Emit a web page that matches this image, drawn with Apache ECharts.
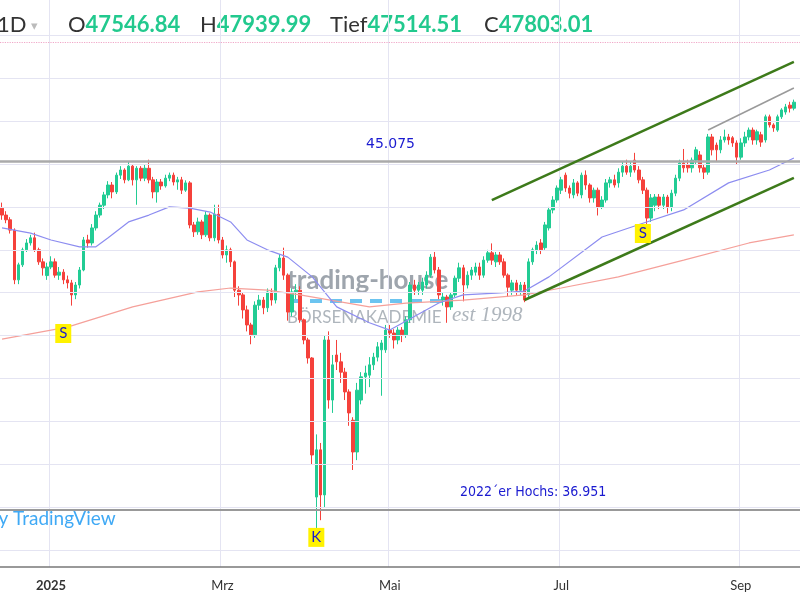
<!DOCTYPE html>
<html><head><meta charset="utf-8">
<script src="https://cdn.jsdelivr.net/npm/echarts@6/dist/echarts.min.js"></script>
<style>html,body{margin:0;padding:0;background:#fff}#c{width:800px;height:600px}</style>
</head><body><div id="c"></div>
<script>
// ---- data ----
const startDate = '2024-12-10', endDate = '2025-09-19';
const holidays = ['2024-12-24','2024-12-25','2024-12-26','2024-12-31','2025-01-01','2025-04-18','2025-04-21','2025-05-01'];
const monthLabels = {0:'2025',2:'Mrz',4:'Mai',6:'Jul',8:'Sep'};
// [open, close, low, high]
const candles = [
[43970,43810,43700,44100],[43810,43700,43620,43900],[43700,43460,43380,43760],[43460,42300,42200,43500],[42300,42650,42200,42700],
[42650,43000,42600,43050],[43000,43160,42950,43250],[43160,43280,43100,43350],[43280,43000,42950,43400],[43000,42720,42650,43050],
[42720,42580,42400,42800],[42400,42600,42300,42700],[42600,42720,42550,42850],[42720,42410,42350,42800],[42410,42480,42300,42600],
[42480,42300,42200,42550],[42300,42230,42100,42400],[42230,41950,41700,42300],[41950,42180,41850,42250],[42180,42530,42100,42600],
[42530,43230,42500,43300],[43230,43160,43050,43350],[43160,43510,43100,43600],[43510,43810,43450,43900],[43810,44040,43750,44100],
[44040,44280,43950,44350],[44280,44510,44200,44600],[44510,44350,44200,44580],[44350,44740,44300,44800],[44740,44860,44650,44950],
[44860,44630,44550,44900],[44630,44950,44600,45050],[44950,44630,44500,45000],[44630,44900,44050,44950],[44900,44670,44600,44950],
[44670,44900,44600,44980],[44900,44630,44550,45100],[44630,44350,44200,44700],[44350,44580,44100,44650],[44580,44490,44400,44650],
[44490,44670,44450,44750],[44670,44740,44600,44800],[44740,44580,44500,44800],[44580,44630,44400,44700],[44630,44390,44300,44700],
[44390,44560,44350,44620],[44560,43580,43500,44600],[43580,43420,43300,43650],[43420,43650,43350,43750],[43650,43350,43250,43700],
[43350,43810,43300,43900],[43810,43280,43200,43850],[43280,43830,43200,44050],[43830,43230,43150,44050],[43230,42880,42800,43300],
[42880,43000,42700,43100],[43000,42720,42600,43050],[42720,42060,41900,42750],[42060,41950,41700,42150],[41950,41600,41400,42000],
[41600,41250,41100,41700],[41250,41020,40800,41300],[41020,41710,40950,41800],[41710,41830,41600,41950],[41830,41650,41500,41900],
[41650,42020,41550,42100],[42020,41830,41700,42100],[41830,42580,41750,42650],[42580,42810,42500,42900],[42810,42410,42300,43050],
[42410,41550,41350,42450],[41550,42020,41450,42100],[42020,42060,41850,42200],[42060,41370,41300,42150],[41370,40900,40800,41400],
[40900,40480,40350,40950],[40480,38220,38000,40500],[37240,38340,36470,38700],[38340,37290,36700,38500],[37290,40900,37000,41000],
[40900,39500,39300,41100],[39500,40320,39200,40550],[40550,40390,40200,40900],[40390,40150,39900,40600],[40150,39690,39500,40250],
[39690,39200,38900,39750],[39030,38290,37870,39100],[38290,39730,38100,39900],[39500,40040,39400,40150],[40040,40130,39650,40300],
[40080,40320,39800,40500],[40320,40500,40200,40600],[40500,40740,40400,40850],[40670,40830,39600,40900],[40670,41130,40600,41250],
[41130,41060,40950,41250],[41060,40900,40700,41150],[40900,41130,40800,41200],[41130,41020,40850,41200],[41020,41370,40950,41450],
[41370,42180,41300,42250],[42180,42060,41950,42300],[42060,42180,41950,42250],[42060,42250,41950,42350],[42180,42410,42100,42500],
[42410,42830,42350,42900],[42830,42530,42450,42950],[42530,41950,41850,42600],[41830,41900,41700,42000],[41900,41670,41300,41950],
[41670,41950,41600,42000],[41950,42340,41900,42400],[42340,42580,42250,42700],[42580,42180,41800,42650],[42180,42410,42100,42500],
[42410,42530,42300,42600],[42480,42600,42400,42700],[42600,42410,42300,42700],[42410,42760,42350,42850],[42760,42930,42700,43000],
[42930,42760,42650,43150],[42720,42880,42600,42950],[42880,42720,42650,42950],[42720,42410,42350,42800],[42410,42130,41900,42450],
[42060,42230,41950,42300],[42230,42060,41950,42300],[42060,42180,41950,42250],[42180,41830,41780,42250],[41950,42720,41850,42800],
[42720,43000,42650,43050],[43000,43110,42900,43200],[43160,43000,42900,43250],[43050,43580,43000,43650],[43510,43930,43450,44000],
[43930,44160,43850,44250],[44160,44440,44100,44500],[44390,44630,44300,44700],[44740,44440,44350,44800],[44440,44320,44200,44500],
[44280,44560,44200,44650],[44560,44320,44250,44600],[44280,44740,44200,44800],[44740,44510,44400,44850],[44510,44210,44100,44550],
[44210,44390,44100,44450],[44390,44000,43800,44450],[44000,44160,43950,44250],[44160,44560,44100,44650],[44560,44630,44450,44700],
[44630,44510,44450,44750],[44560,44810,44450,44900],[44810,44950,44700,45050],[44950,44810,44750,45100],[44810,44950,44700,45050],
[45090,44860,44800,45260],[44860,44630,44550,44950],[44630,44390,44300,44700],[44390,43740,43420,44450],[43740,44210,43650,44300],
[44040,44230,43900,44300],[44230,44040,43950,44300],[44040,44230,43950,44300],[44230,44000,43850,44280],[44000,44320,43900,44400],
[44320,44670,44250,44750],[44670,45020,44600,45100],[45020,44910,44800,45350],[44980,44910,44800,45100],[44910,45090,44800,45150],
[45090,45330,45000,45400],[45210,44910,44800,45300],[44910,44810,44650,45000],[44810,45630,44750,45700],[45630,45330,45200,45700],
[45440,45330,45050,45500],[45330,45560,45250,45650],[45560,45630,45500,45800],[45630,45560,45450,45700],[45610,45490,45400,45650],
[45490,45160,45000,45550],[45160,45490,45100,45600],[45490,45630,45400,45750],[45630,45790,45550,45850],[45790,45560,45450,45850],
[45560,45750,45450,45800],[45680,45510,45400,45750],[45560,46100,45500,46150],[46100,45910,45850,46150],[45910,45840,45750,45950],
[45790,46100,45750,46150],[46100,46260,46050,46300],[46210,46330,46150,46400],[46370,46300,46200,46450],[46300,46440,46250,46500]
];
// moving averages: [bar index, value]
const ma50 = [[0,43510],[7,43390],[12,43230],[19,43070],[23,43070],[26,43280],[31,43650],[36,43810],[41,44000],[46,43970],[51,43880],[56,43650],[60,43230],[65,43000],[70,42830],[76,42370],[82,41670],[90,41300],[95,41130],[107,41760],[113,41950],[121,41990],[128,42040],[134,42370],[147,43300],[157,43620],[167,43930],[178,44560],[188,44860],[194,45140]];
const ma200 = [[0,40920],[16,41200],[32,41670],[48,42020],[56,42110],[65,42060],[73,41950],[90,41670],[99,41760],[113,41830],[128,41950],[137,42110],[151,42370],[167,42760],[183,43160],[194,43350]];
const gridLevels = [36000,37000,38000,39000,40000,41000,42000,43000,44000,45000,46000,47000,48000];
const resistance = 45075, oldHigh = 36951, lastPrice = 47840;
const channelUpper = [[120,44160],[194,47377]];
const channelLower = [[128,41831],[194,44674]];
const innerLine = [[173,45792],[194,46771]];
const markers = [{t:'S',i:15,v:41050},{t:'S',i:157,v:43380},{t:'K',i:77,v:36300}];
const header = [['O','47546.84',68],['H','47939.99',200],['Tief','47514.51',330],['C','47803.01',484]];

// ---- build ----
const dates = [];
{ let d = new Date(startDate+'T12:00:00Z'); const end = new Date(endDate+'T12:00:00Z');
  while (d <= end) { const s = d.toISOString().slice(0,10); const wd = d.getUTCDay();
    if (wd!==0 && wd!==6 && holidays.indexOf(s)<0) dates.push(s); d = new Date(d.getTime()+86400000); } }
const labelAt = {};
dates.forEach((s,i)=>{ const m = +s.slice(5,7)-1; if (i>0 && dates[i-1].slice(5,7)!==s.slice(5,7) && monthLabels[m]!==undefined && s.slice(0,4)==='2025') labelAt[i]=monthLabels[m]; });
const isLab = i => labelAt[i]!==undefined;

const chart = echarts.init(document.getElementById('c'), null, {renderer:'canvas'});
const hl = (v,color,w,type)=>({yAxis:v,lineStyle:{color,width:w,type}});
const headerGraphics = header.map(h=>({type:'text',left:h[2],top:14,style:{
  rich:{l:{fontSize:22,fill:'#333',fontFamily:'Lato'},v:{fontSize:22,fill:'#22c98e',fontFamily:'Lato',fontWeight:'bold'}},
  text:'{l|'+h[0]+'}{v|'+h[1]+'}'}}));
chart.setOption({
  animation:false,
  grid:{left:0,right:0,top:0,bottom:33},
  xAxis:{type:'category',data:dates,boundaryGap:true,
    axisLine:{lineStyle:{color:'#777',width:1.5}},
    axisTick:{interval:(i)=>isLab(i),length:5,lineStyle:{color:'#777'}},
    axisLabel:{interval:(i)=>isLab(i),formatter:(v,i)=>labelAt[i]==='2025'?'{b|2025}':(labelAt[i]||''),color:'#333',fontSize:13,margin:12,
      fontFamily:'Lato',rich:{b:{fontWeight:'bold',fontSize:13,color:'#333',fontFamily:'Lato'}}},
    splitLine:{show:true,interval:(i)=>isLab(i),lineStyle:{color:'#e4e4f2'}}},
  yAxis:{type:'value',min:35610,max:48821,show:false,splitLine:{show:false}},
  series:[
    {type:'line',data:[],silent:true,markLine:{symbol:'none',silent:true,label:{show:false},
      data:gridLevels.map(v=>hl(v,'#e4e4f2',1,'solid')).concat([
        hl(resistance,'#aaa',2.5,'solid'),hl(oldHigh,'#999',2,'solid'),hl(lastPrice,'#f0a8c8',1.2,'dotted')])}},
    {type:'line',data:ma200,showSymbol:false,connectNulls:true,lineStyle:{color:'#f5a09a',width:1.2},silent:true},
    {type:'line',data:ma50,showSymbol:false,connectNulls:true,lineStyle:{color:'#8d8df0',width:1.2},silent:true},
    {type:'candlestick',data:candles,barWidth:3,
      itemStyle:{color:'#22cc94',color0:'#f5413b',borderColor:'#22cc94',borderColor0:'#f5413b',borderWidth:1},
      markLine:{symbol:'none',silent:true,label:{show:false},data:[
        [{coord:channelUpper[0],lineStyle:{color:'#3d7a1a',width:2.5,type:'solid'}},{coord:channelUpper[1]}],
        [{coord:channelLower[0],lineStyle:{color:'#3d7a1a',width:2.5,type:'solid'}},{coord:channelLower[1]}],
        [{coord:innerLine[0],lineStyle:{color:'#9a9a9a',width:1.5,type:'solid'}},{coord:innerLine[1]}]]},
      markPoint:{symbol:'rect',symbolSize:[16,19],itemStyle:{color:'#fff200'},
        label:{color:'#1a1ad0',fontSize:15,fontFamily:'Lato'},
        data:markers.map(m=>({coord:[m.i,m.v],value:m.t,label:{formatter:m.t}}))}}
  ],
  graphic:[
    {type:'text',left:-3,top:14,style:{text:'1D',fontSize:22,fill:'#333',fontFamily:'Lato'}},
    {type:'text',left:31,top:20,style:{text:'▾',fontSize:13,fill:'#bbb'}}
  ].concat(headerGraphics).concat([
    {type:'text',left:366,top:137,style:{text:'45.075',fontSize:14,fill:'#1a1ad0',fontFamily:'DejaVu Sans'}},
    {type:'text',left:460,top:485,style:{text:'2022´er Hochs: 36.951',fontSize:14,fill:'#1a1ad0',fontFamily:'DejaVu Sans Condensed'}},
    {type:'text',left:-12,top:509,style:{text:'by TradingView',fontSize:19,fill:'#3fa9f5',fontFamily:'Lato'}},
    {type:'text',left:287,top:268,style:{text:'trading-house',fontSize:26,fill:'rgba(125,135,145,0.75)',fontFamily:'Lato',fontWeight:'bold'}},
    {type:'line',shape:{x1:290,y1:301,x2:445,y2:301},style:{stroke:'#6cc4f0',lineWidth:4,lineDash:[12,8]}},
    {type:'text',left:287,top:309,style:{text:'BÖRSENAKADEMIE',fontSize:17,fill:'rgba(140,150,160,0.7)',fontFamily:'Lato'}},
    {type:'text',left:452,top:305,style:{text:'est 1998',fontSize:21,fill:'rgba(140,150,160,0.7)',fontFamily:'Liberation Serif',fontStyle:'italic'}}
  ])
});
</script></body></html>
